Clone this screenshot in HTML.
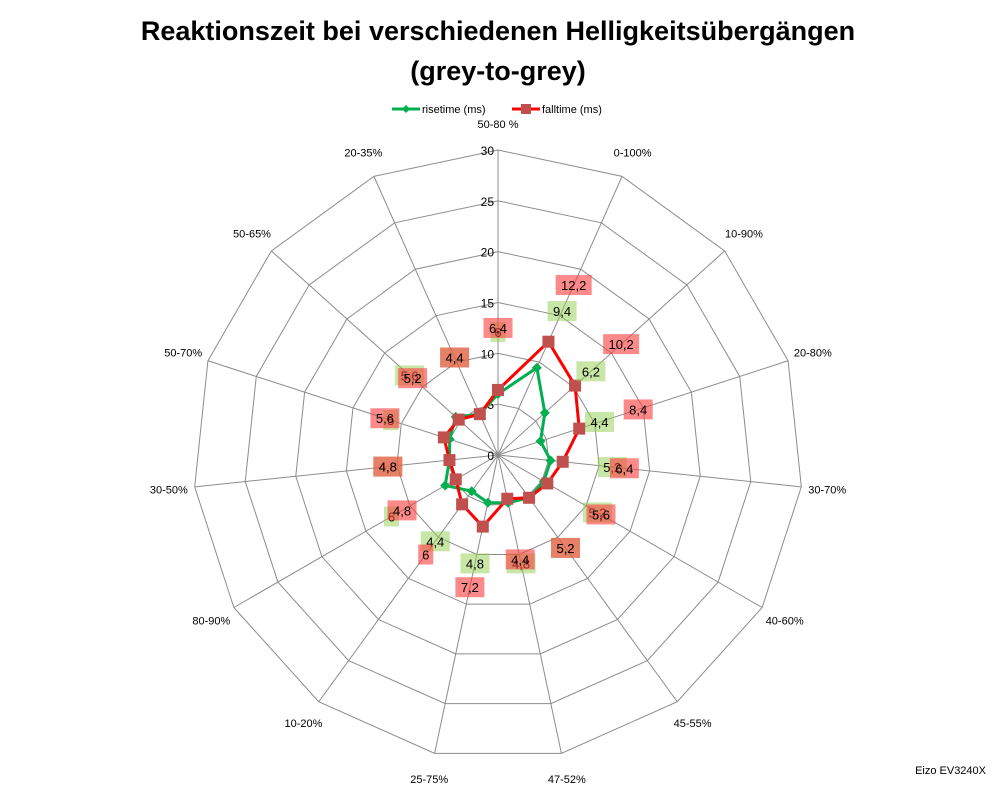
<!DOCTYPE html>
<html><head><meta charset="utf-8"><style>
body{margin:0;background:#fff;font-family:"Liberation Sans",sans-serif}
</style></head><body>
<svg width="998" height="786" viewBox="0 0 998 786" font-family="Liberation Sans, sans-serif">
<rect width="998" height="786" fill="#fff"/>
<text x="498" y="40" text-anchor="middle" font-size="27" font-weight="bold">Reaktionszeit bei verschiedenen Helligkeitsübergängen</text>
<text x="498" y="80" text-anchor="middle" font-size="27" font-weight="bold">(grey-to-grey)</text>
<g font-size="11">
<g><line x1="392" y1="109" x2="420" y2="109" stroke="#00b050" stroke-width="3"/><path d="M406 105 L410 109 L406 113 L402 109Z" fill="#00b050"/><text x="422" y="113">risetime (ms)</text></g>
<g><line x1="512" y1="109" x2="540" y2="109" stroke="#f00" stroke-width="3"/><rect x="521" y="104" width="10" height="10" fill="#c0504d"/><text x="542" y="113">falltime (ms)</text></g>
</g>
<g id="grid"></g>
<g id="series"></g>
<g id="labels"></g>
<text x="986" y="774" text-anchor="end" font-size="11">Eizo EV3240X</text>
</svg>
<script>
const categories=["50-80 %","0-100%","10-90%","20-80%","30-70%","40-60%","45-55%","47-52%","25-75%","10-20%","80-90%","30-50%","50-70%","50-65%","20-35%"];
const rise=[6,9.4,6.2,4.4,5.2,5.2,5.2,4.8,4.8,4.4,6,4.8,5,5.6,4.4];
const fall=[6.4,12.2,10.2,8.4,6.4,5.6,5.2,4.4,7.2,6,4.8,4.8,5.6,5.2,4.4];
const ticks=[0,5,10,15,20,25,30];
const NS="http://www.w3.org/2000/svg";
const cx=498,cy=455,R=305,maxV=30;
function ang(i){return -Math.PI/2+i*2*Math.PI/categories.length;}
function rs(v){return v/maxV*R;}
function pt(i,r){return [cx+r*Math.cos(ang(i)),cy+r*Math.sin(ang(i))];}
function mk(tag,attrs,parent){const e=document.createElementNS(NS,tag);for(const k in attrs)e.setAttribute(k,attrs[k]);parent.appendChild(e);return e;}
const grid=document.getElementById('grid');
ticks.slice(1).forEach(t=>{
  const p=mk('polygon',{points:categories.map((c,i)=>pt(i,rs(t)).join(',')).join(' '),fill:'none',stroke:'#8c8c8c','stroke-width':1},grid);
  
  
});
categories.forEach((c,i)=>{
  const e=pt(i,R);
  const l=mk('line',{x1:cx,y1:cy,x2:e[0],y2:e[1],stroke:'#8c8c8c','stroke-width':1},grid);
  
  
  const q=pt(i,R+26);
  const t=mk('text',{x:q[0],y:q[1]+4,'text-anchor':'middle','font-size':11},grid);
  t.textContent=c;
  
  
});
ticks.forEach(t=>{
  const tx=mk('text',{x:cx-4,y:cy-rs(t)+5,'text-anchor':'end','font-size':12},grid);
  tx.textContent=t;
  
  
});
const ser=document.getElementById('series'),lab=document.getElementById('labels');
function drawSeries(vals,color,isSq,lblFill,name){
  const pts=vals.map((v,i)=>pt(i,rs(v)));
  const pl=mk('polygon',{points:pts.map(p=>p.join(',')).join(' '),fill:'none',stroke:color,'stroke-width':3},ser);
  
  
  pts.forEach((p,i)=>{
    let m;
    if(isSq){m=mk('rect',{x:p[0]-6,y:p[1]-6,width:12,height:12,fill:'#c0504d'},ser);}
    else{m=mk('path',{d:`M${p[0]} ${p[1]-5}L${p[0]+5} ${p[1]}L${p[0]} ${p[1]+5}L${p[0]-5} ${p[1]}Z`,fill:color},ser);}
    
    
    const q=pt(i,rs(vals[i])+62);
    const txt=String(vals[i]).replace('.',',');
    const w=txt.length*7+8;
    const r=mk('rect',{x:q[0]-w/2,y:q[1]-10,width:w,height:20,fill:lblFill},lab);
    
    
    const t=mk('text',{x:q[0],y:q[1]+5,'text-anchor':'middle','font-size':13},lab);
    t.textContent=txt;
    
    
  });
}
drawSeries(rise,'#00b050',false,'rgba(146,208,80,0.5)','risetime');
drawSeries(fall,'#ff0000',true,'rgba(250,60,60,0.6)','falltime');
</script>
</body></html>
